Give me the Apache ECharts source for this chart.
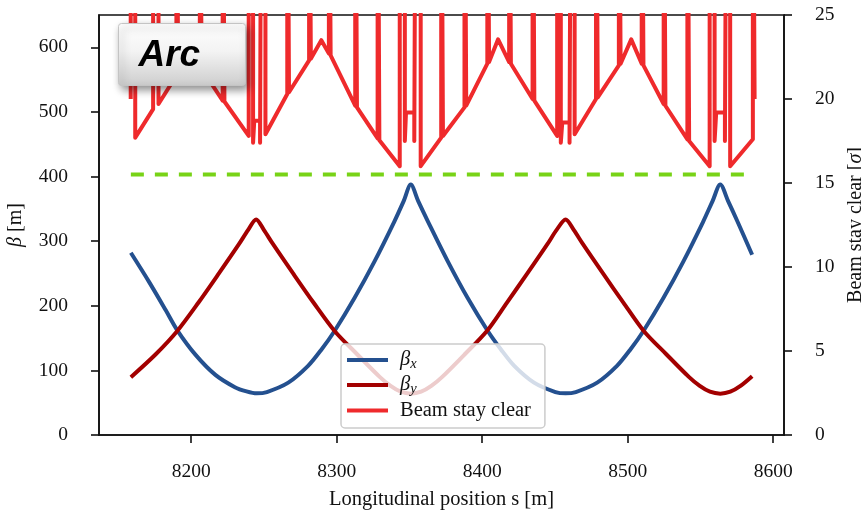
<!DOCTYPE html>
<html>
<head>
<meta charset="utf-8">
<script src="https://cdn.jsdelivr.net/npm/echarts@6/dist/echarts.min.js"></script>
<style>
html, body { margin: 0; padding: 0; background: #fff; }
#chart { width: 861px; height: 510px; }
</style>
</head>
<body>
<div id="chart"></div>
<script>
// beta functions (s in m, beta in m); peaks are listed twice to keep the cusp
var sX = [8158.5, 8171, 8182.5, 8190.4, 8203, 8216.6, 8230, 8238, 8245, 8252, 8266.7, 8280.3, 8289.4, 8298.5, 8312.2, 8325.8, 8339.5, 8346, 8350.9, 8350.9, 8356, 8362.8, 8376.5, 8390, 8403.8, 8413, 8422, 8435.6, 8450.3, 8457.3, 8464.3, 8479, 8492.6, 8501.7, 8510.8, 8524.5, 8538.1, 8551.8, 8558.3, 8563.6, 8563.6, 8569, 8575.5, 8585.5];
var betaX = [282, 237, 193, 162, 124, 93, 74, 67.5, 64.5, 66.5, 81, 107, 132, 161, 212, 268, 330, 362, 387.5, 387.5, 362, 330, 268, 212, 161, 132, 107, 81, 66.5, 64.5, 66.5, 81, 107, 132, 161, 212, 268, 330, 362, 387.5, 387.5, 362, 330, 279];

var sY = [8158.5, 8175.6, 8190.4, 8205, 8219, 8233, 8239, 8244.6, 8244.6, 8250, 8256, 8270, 8284, 8298.5, 8314, 8329.5, 8337, 8344, 8350.9, 8358, 8365, 8372.5, 8388, 8403.2, 8417, 8431, 8445, 8451, 8457.3, 8457.3, 8463, 8469, 8483, 8497, 8511, 8526.5, 8542, 8549.5, 8556.5, 8563.6, 8570.5, 8577.5, 8585.5];
var betaY = [89.5, 125, 161, 205, 250, 296, 317, 333.5, 333.5, 317, 296, 250, 205, 161, 125, 90, 76, 67, 64, 67, 76, 90, 125, 161, 205, 250, 296, 317, 333.5, 333.5, 317, 296, 250, 205, 161, 125, 90, 76, 67, 64, 67, 76, 91];

// beam stay clear in sigma; 40 = off the top of the plot
var bscS = [
  8158.4, 8158.4, 8161.5, 8161.5,
  8173.8, 8173.8, 8177.5, 8177.5,
  8189.8, 8189.8, 8191.0, 8191.0,
  8200,
  8205.9, 8205.9, 8207.1, 8207.1,
  8221.6, 8221.6, 8222.8, 8222.8,
  8239.5, 8239.5, 8242.5, 8242.5, 8243.3, 8243.3, 8247.3, 8247.3, 8248.2, 8248.2, 8251, 8251,
  8266.0, 8266.0, 8267.2, 8267.2,
  8281.0, 8281.0, 8282.2, 8282.2,
  8289.4,
  8294.6, 8294.6, 8295.8, 8295.8,
  8312.7, 8312.7, 8313.9, 8313.9,
  8328.1, 8328.1, 8329.3, 8329.3,
  8343.3, 8343.3, 8346.8, 8346.8, 8347.6, 8347.6, 8353.3, 8353.3, 8354.3, 8354.3, 8357.7, 8357.7,
  8371.8, 8371.8, 8373.0, 8373.0,
  8387.8, 8387.8, 8389.0, 8389.0,
  8403.5, 8403.5, 8404.7, 8404.7,
  8410.9,
  8418.5, 8418.5, 8419.7, 8419.7,
  8434.6, 8434.6, 8435.8, 8435.8,
  8451.5, 8451.5, 8454, 8454, 8455, 8455, 8460, 8460, 8461, 8461, 8463.5, 8463.5,
  8478.2, 8478.2, 8479.4, 8479.4,
  8493.9, 8493.9, 8495.1, 8495.1,
  8502.4,
  8509.6, 8509.6, 8510.8, 8510.8,
  8524.7, 8524.7, 8525.9, 8525.9,
  8541.0, 8541.0, 8542.2, 8542.2,
  8556.3, 8556.3, 8559.7, 8559.7, 8560.8, 8560.8, 8566.8, 8566.8, 8567.9, 8567.9, 8570.4, 8570.4,
  8586.0, 8586.0, 8587.2, 8587.2
];
var bscSigma = [
  20.0, 40, 40, 17.7,
  19.4, 40, 40, 19.7,
  21.4, 40, 40, 21.45,
  22.7,
  21.9, 40, 40, 21.8,
  19.9, 40, 40, 19.85,
  17.8, 40, 40, 17.4, 17.4, 18.7, 18.7, 17.4, 17.4, 40, 40, 17.9,
  20.3, 40, 40, 20.4,
  22.3, 40, 40, 22.4,
  23.5,
  22.7, 40, 40, 22.6,
  19.6, 40, 40, 19.5,
  17.65, 40, 40, 17.55,
  16.0, 40, 40, 17.5, 17.5, 19.2, 19.2, 17.5, 17.5, 40, 40, 16.0,
  17.7, 40, 40, 17.8,
  19.5, 40, 40, 19.6,
  22.1, 40, 40, 22.2,
  23.55,
  22.2, 40, 40, 22.1,
  20.0, 40, 40, 19.9,
  17.8, 40, 40, 17.4, 17.4, 18.6, 18.6, 17.4, 17.4, 40, 40, 17.9,
  20.0, 40, 40, 20.1,
  22.0, 40, 40, 22.1,
  23.55,
  22.1, 40, 40, 22.0,
  19.7, 40, 40, 19.6,
  17.6, 40, 40, 17.5,
  16.0, 40, 40, 17.5, 17.5, 19.2, 19.2, 17.5, 17.5, 40, 40, 16.0,
  17.6, 40, 40, 20.0
];

var limitS = [8158.5, 8586];
var limitSigma = [15.5, 15.5];

var sTicks = [8200, 8300, 8400, 8500, 8600];
var betaTicks = [0, 100, 200, 300, 400, 500, 600];
var bscTicks = [0, 5, 10, 15, 20, 25];

function zip(a, b) {
  return a.map(function (v, i) { return [v, b[i]]; });
}

var serif = 'Liberation Serif';
var ink = '#111';

var chart = echarts.init(document.getElementById('chart'));
chart.setOption({
  animation: false,
  grid: {
    left: 99, right: 77, top: 15, bottom: 75,
    outerBoundsMode: 'none', containLabel: false,
    show: true, borderColor: ink, borderWidth: 1.6, backgroundColor: 'transparent'
  },
  legend: {
    orient: 'vertical',
    left: 341, top: 344,
    padding: [6, 14, 7, 6],
    itemGap: 3,
    itemWidth: 41, itemHeight: 4,
    backgroundColor: 'rgba(255,255,255,0.8)',
    borderColor: '#cccccc', borderWidth: 1.5, borderRadius: 4,
    selectedMode: false,
    data: [
      { name: 'bx', icon: 'rect' },
      { name: 'by', icon: 'rect' },
      { name: 'Beam stay clear', icon: 'rect' }
    ],
    formatter: function (n) {
      if (n === 'bx') return '{g|β}{s|x}';
      if (n === 'by') return '{g|β}{s|y}';
      return '{t|Beam stay clear}';
    },
    textStyle: {
      color: ink, fontFamily: serif, fontSize: 20.5, padding: [0, 0, 0, 7],
      rich: {
        g: { fontFamily: serif, fontStyle: 'italic', fontSize: 20.5, lineHeight: 24, color: ink },
        s: { fontFamily: serif, fontStyle: 'italic', fontSize: 14.5, lineHeight: 12, verticalAlign: 'bottom', color: ink },
        t: { fontFamily: serif, fontSize: 20.5, lineHeight: 24, color: ink }
      }
    }
  },
  xAxis: {
    type: 'value', min: 8136.6, max: 8607.4,
    name: 'Longitudinal position s [m]', nameLocation: 'middle', nameGap: 54,
    nameTextStyle: { fontFamily: serif, fontSize: 20.5, color: ink },
    axisLine: { lineStyle: { color: ink, width: 1.6 } },
    axisTick: { length: 8, lineStyle: { color: ink, width: 1.6 }, customValues: sTicks },
    axisLabel: { fontFamily: serif, fontSize: 19.5, color: ink, margin: 27, customValues: sTicks,
      formatter: function (v) { return String(v); } },
    splitLine: { show: false }
  },
  yAxis: [{
    type: 'value', min: 0, max: 650, position: 'left',
    name: '{g|β} [m]', nameLocation: 'middle', nameGap: 73, nameRotate: 90,
    nameTextStyle: { fontFamily: serif, fontSize: 20, color: ink,
      rich: { g: { fontFamily: serif, fontStyle: 'italic', fontSize: 20, color: ink } } },
    axisLine: { show: true, lineStyle: { color: ink, width: 1.6 } },
    axisTick: { length: 8, lineStyle: { color: ink, width: 1.6 }, customValues: betaTicks },
    axisLabel: { fontFamily: serif, fontSize: 19.5, color: ink, margin: 31, customValues: betaTicks },
    splitLine: { show: false }
  }, {
    type: 'value', min: 0, max: 25, position: 'right',
    name: 'Beam stay clear [{g|σ}]', nameLocation: 'middle', nameGap: 52, nameRotate: 90,
    nameTextStyle: { fontFamily: serif, fontSize: 20, color: ink,
      rich: { g: { fontFamily: serif, fontStyle: 'italic', fontSize: 20, color: ink } } },
    axisLine: { show: true, lineStyle: { color: ink, width: 1.6 } },
    axisTick: { length: 8, lineStyle: { color: ink, width: 1.6 }, customValues: bscTicks },
    axisLabel: { fontFamily: serif, fontSize: 19.5, color: ink, margin: 31, customValues: bscTicks },
    splitLine: { show: false }
  }],
  series: [{
    name: 'bx', type: 'line', yAxisIndex: 0,
    data: zip(sX, betaX), showSymbol: false, smooth: 0.3, z: 3,
    color: '#24508f',
    lineStyle: { color: '#24508f', width: 4, join: 'round' }
  }, {
    name: 'by', type: 'line', yAxisIndex: 0,
    data: zip(sY, betaY), showSymbol: false, smooth: 0.3, z: 3,
    color: '#a30000',
    lineStyle: { color: '#a30000', width: 4, join: 'round' }
  }, {
    name: 'Beam stay clear', type: 'line', yAxisIndex: 1,
    data: zip(bscS, bscSigma), showSymbol: false, z: 2,
    color: '#ef2a2c',
    lineStyle: { color: '#ef2a2c', width: 4, join: 'round' }
  }, {
    name: 'limit', type: 'line', yAxisIndex: 1,
    data: zip(limitS, limitSigma), showSymbol: false, z: 2,
    lineStyle: { color: '#78d317', width: 4, type: [13, 11], cap: 'butt' }
  }],
  graphic: [{
    type: 'group', left: 118, top: 23,
    children: [{
      type: 'rect', z: 100,
      shape: { x: 0, y: 0, width: 127, height: 62, r: 3 },
      style: {
        fill: new echarts.graphic.LinearGradient(0, 0, 0, 1, [
          { offset: 0, color: '#ffffff' },
          { offset: 0.45, color: '#f3f3f3' },
          { offset: 1, color: '#cdcdcd' }
        ]),
        stroke: '#c4c4c4', lineWidth: 1,
        shadowBlur: 8, shadowOffsetX: 3, shadowOffsetY: 4, shadowColor: 'rgba(0,0,0,0.45)'
      }
    }, {
      type: 'text', z: 101,
      style: {
        x: 20, y: 32, text: 'Arc',
        fontFamily: 'Liberation Sans', fontStyle: 'italic', fontWeight: 'bold', fontSize: 37,
        fill: '#000', verticalAlign: 'middle', align: 'left'
      }
    }]
  }]
});
</script>
</body>
</html>
